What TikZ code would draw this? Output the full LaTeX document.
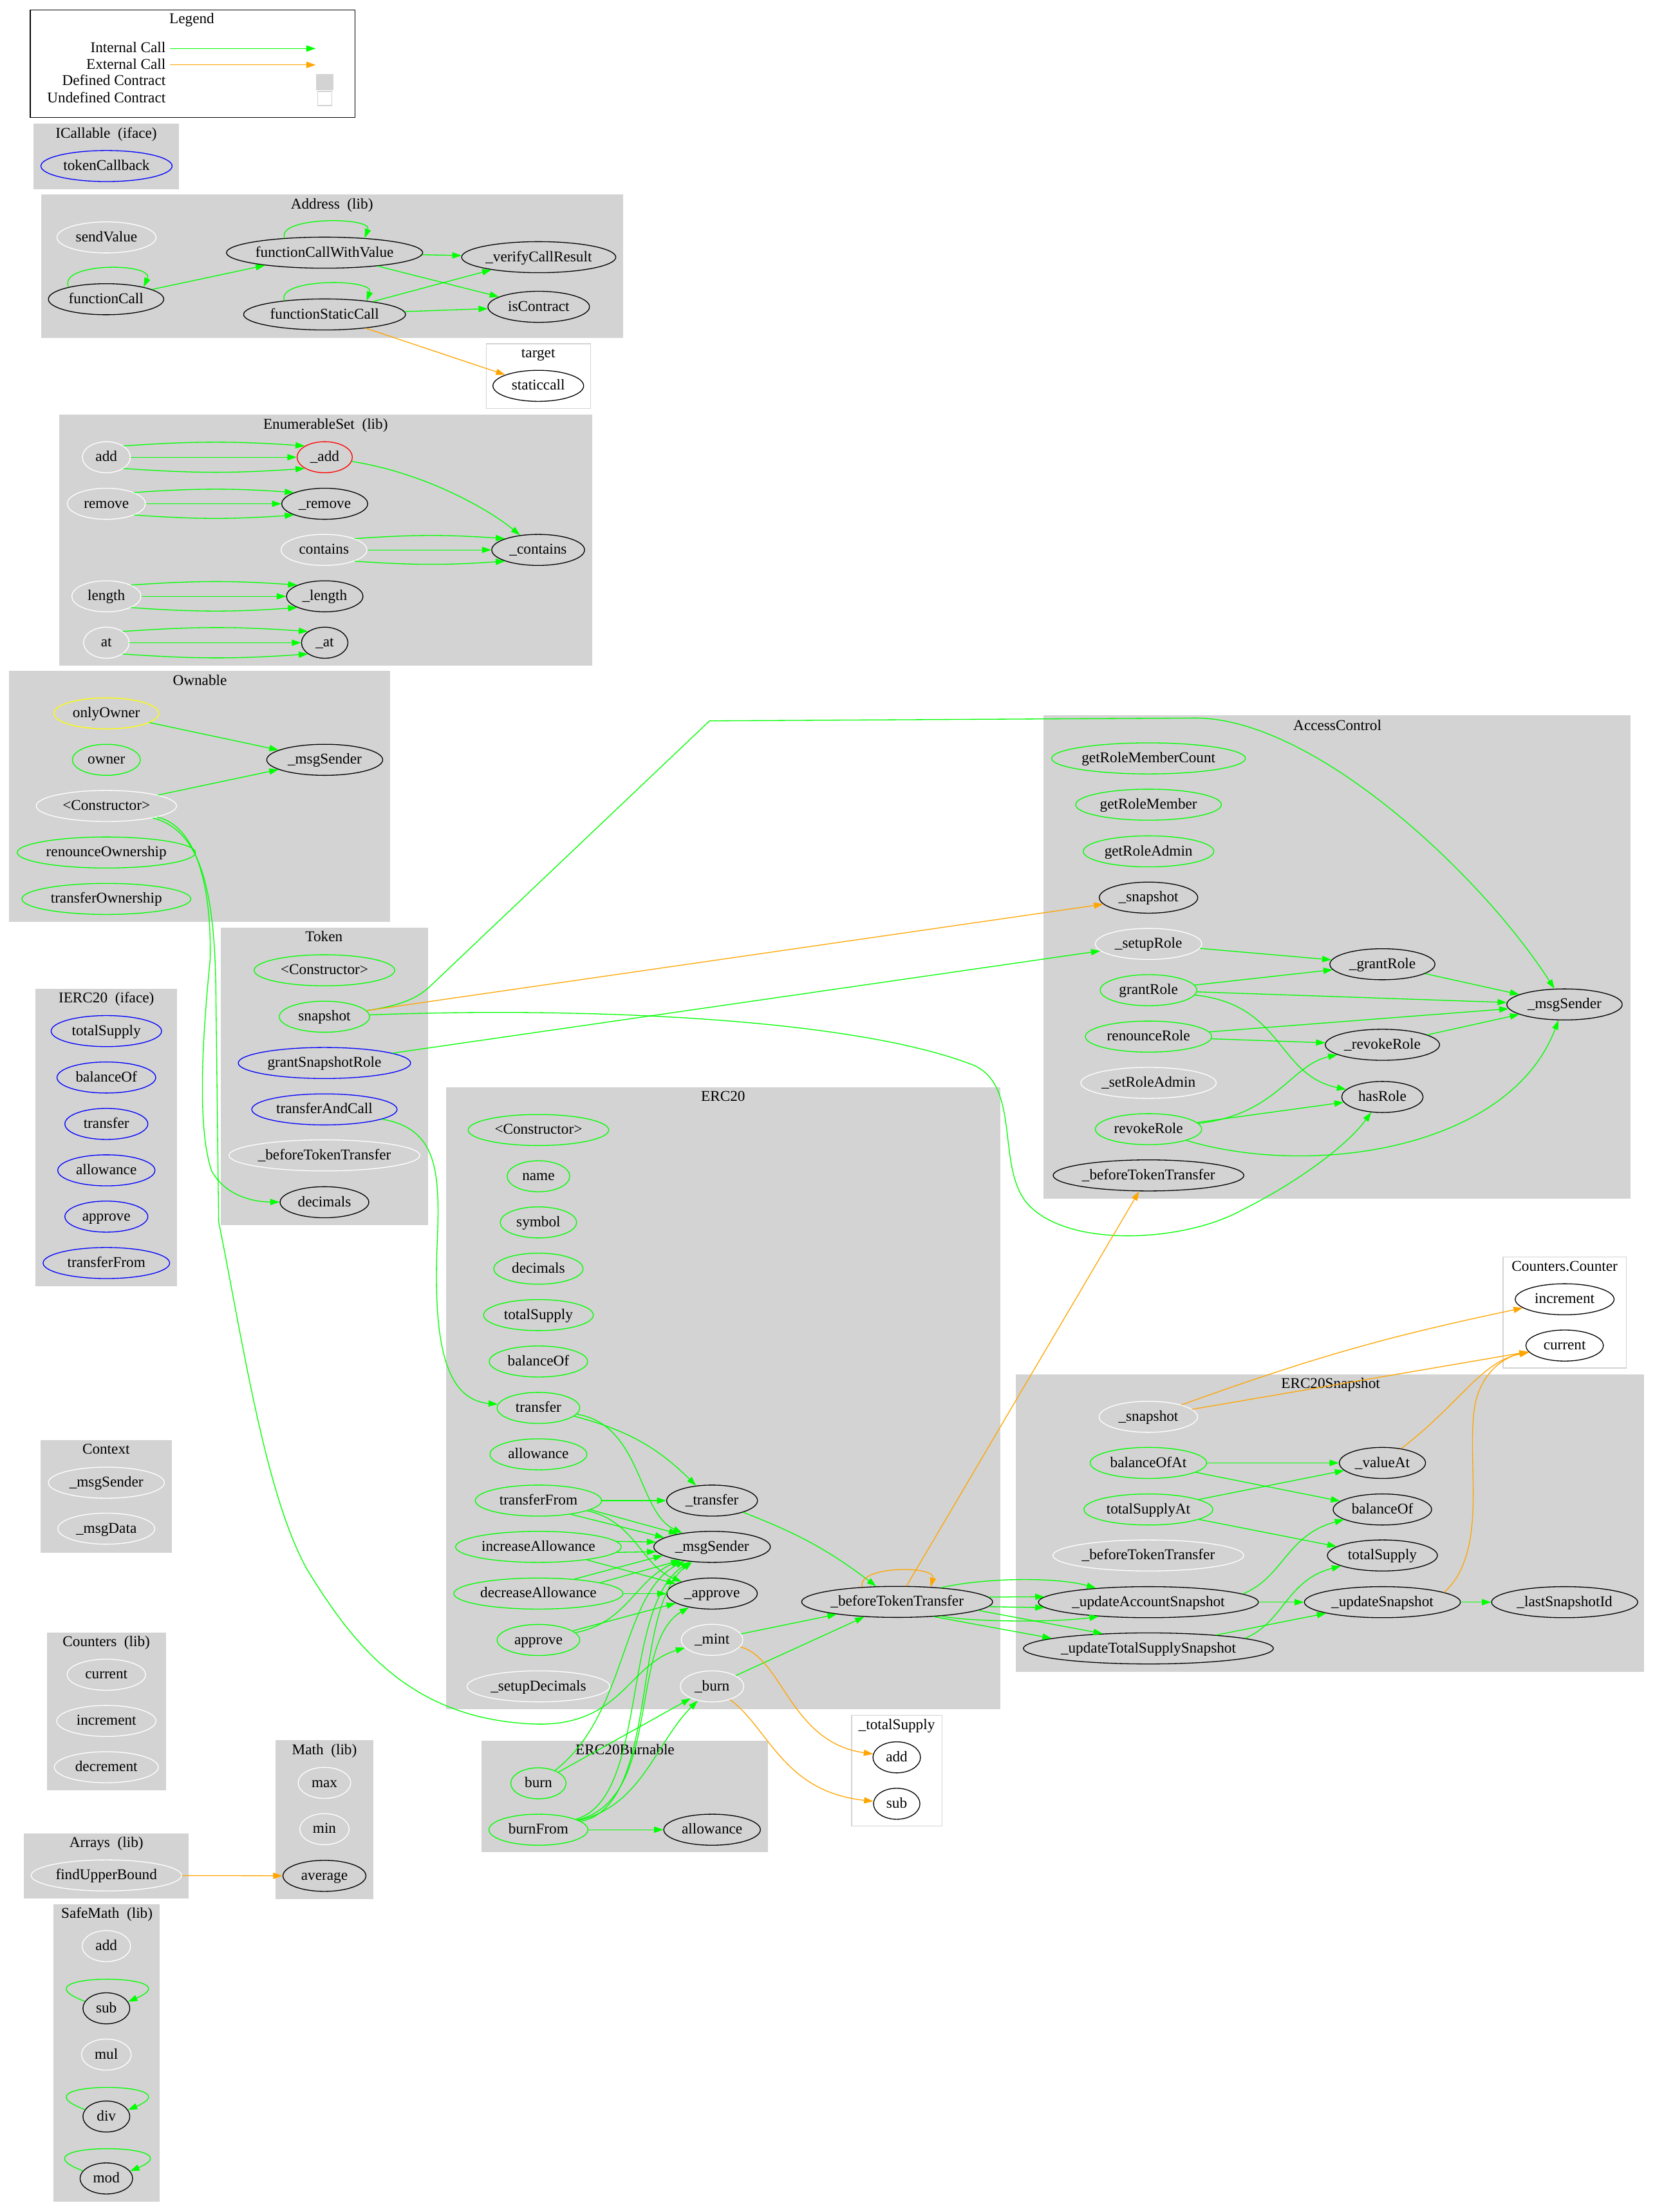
\documentclass[tikz,border=0pt]{standalone}
\usepackage{fontspec}
\setmainfont{Liberation Serif}
\usetikzlibrary{shapes.geometric,arrows.meta}
\definecolor{gvgreen}{HTML}{00FF00}
\definecolor{gvorange}{HTML}{FFA500}
\definecolor{gvgray}{HTML}{D3D3D3}
\definecolor{gvblue}{HTML}{0000FF}
\definecolor{gvyellow}{HTML}{FFFF00}
\definecolor{gvred}{HTML}{FF0000}
\tikzset{
 fnode/.style={ellipse, inner sep=0pt, minimum height=22pt, line width=0.6pt, text height=7.6pt, text depth=1.6pt},
 fk/.style={fnode, draw=black},
 fw/.style={fnode, draw=white},
 fg/.style={fnode, draw=gvgreen},
 fb/.style={fnode, draw=gvblue},
 fy/.style={fnode, draw=gvyellow},
 fr/.style={fnode, draw=gvred},
 ic/.style={draw=gvgreen, line width=0.6pt, -{Triangle[length=6.6pt,width=4.4pt]}},
 ec/.style={draw=gvorange, line width=0.6pt, -{Triangle[length=6.6pt,width=4.4pt]}},
 defcl/.style={fill=gvgray, draw=gvgray, line width=0.6pt},
 undcl/.style={fill=white, draw=gvgray, line width=0.6pt},
 ttl/.style={inner sep=0pt, text height=7.6pt, text depth=1.6pt},
}
\begin{document}
\begin{tikzpicture}[x=1pt,y=-1pt,font=\fontsize{10.6pt}{12pt}\selectfont]
\fill[white] (0,0) rectangle (1173,1568);
\useasboundingbox (0,0) rectangle (1173,1568);

% ---------- clusters ----------
\draw[line width=0.6pt] (21.5,7.1) rectangle (251.6,83.4);
\draw[defcl] (24.1,87.7) rectangle (126.5,133.9);
\draw[defcl] (29.6,138.3) rectangle (441.3,239.3);
\draw[undcl] (344.9,243.7) rectangle (418.6,289.4);
\draw[defcl] (42.5,294.1) rectangle (419.4,471.6);
\draw[defcl] (6.9,475.9) rectangle (276.3,653.2);
\draw[defcl] (25.6,701.2) rectangle (125.2,911.6);
\draw[defcl] (156.9,657.8) rectangle (303.1,868.2);
\draw[defcl] (29.2,1021) rectangle (121.6,1100.2);
\draw[defcl] (33.6,1157.6) rectangle (117.3,1269);
\draw[defcl] (195.7,1234) rectangle (264.6,1345.8);
\draw[defcl] (17.3,1299.8) rectangle (133.5,1345.5);
\draw[defcl] (38.2,1350.2) rectangle (113.1,1560.3);
\draw[defcl] (316.7,771) rectangle (709,1211.1);
\draw[defcl] (341.7,1234.2) rectangle (544.3,1312.7);
\draw[undcl] (603.7,1215.9) rectangle (667.8,1294.3);
\draw[defcl] (740.1,507.5) rectangle (1155.6,849.3);
\draw[undcl] (1065.6,891.1) rectangle (1152.9,969.7);
\draw[defcl] (720.4,974.4) rectangle (1165,1184.6);

% ---------- legend ----------
\node[ttl] (lg-t) at (136,13.6) {Legend};
\node[ttl, anchor=east] (lg-it) at (117.6,34.4) {Internal Call};
\node[ttl, anchor=east] (lg-et) at (117.6,46) {External Call};
\node[ttl, anchor=east] (lg-dt) at (117.6,57.6) {Defined Contract};
\node[ttl, anchor=east] (lg-ut) at (117.6,69.6) {Undefined Contract};
\coordinate (lg-i1) at (120.5,34.4);
\coordinate (lg-i2) at (223.8,34.4);
\coordinate (lg-e1) at (120.5,46);
\coordinate (lg-e2) at (223.8,46);
\node[fill=gvgray, draw=gvgray, minimum width=11.7pt, minimum height=11.2pt, inner sep=0pt] (lg-def) at (230.25,58.1) {};
\node[fill=white, draw=gvgray, line width=0.6pt, minimum width=10.1pt, minimum height=10.1pt, inner sep=0pt] (lg-und) at (230.25,69.85) {};
\draw[ic] (lg-i1) -- (lg-i2);
\draw[ec] (lg-e1) -- (lg-e2);

% ---------- titles ----------
\node[ttl] (t-ic) at (75.3,94.8) {ICallable\enspace(iface)};
\node[ttl] (t-ad) at (235.3,144.9) {Address\enspace(lib)};
\node[ttl] (t-tg) at (381.6,250.6) {target};
\node[ttl] (t-es) at (230.8,301) {EnumerableSet\enspace(lib)};
\node[ttl] (t-ow) at (141.7,482.6) {Ownable};
\node[ttl] (t-ie) at (75.4,707.9) {IERC20\enspace(iface)};
\node[ttl] (t-tk) at (229.7,664.5) {Token};
\node[ttl] (t-cx) at (75.2,1027.7) {Context};
\node[ttl] (t-co) at (75.4,1164.3) {Counters\enspace(lib)};
\node[ttl] (t-ma) at (230,1240.7) {Math\enspace(lib)};
\node[ttl] (t-ar) at (75.4,1306.6) {Arrays\enspace(lib)};
\node[ttl] (t-sm) at (75.8,1356.6) {SafeMath\enspace(lib)};
\node[ttl] (t-e) at (512.6,777.7) {ERC20};
\node[ttl] (t-eb) at (443.1,1240.9) {ERC20Burnable};
\node[ttl] (t-ts) at (635.7,1222.9) {\_totalSupply};
\node[ttl] (t-ac) at (948.1,514.5) {AccessControl};
\node[ttl] (t-cc) at (1109.2,898) {Counters.Counter};
\node[ttl] (t-sn) at (943.3,981.1) {ERC20Snapshot};

% ---------- nodes ----------
\node[fb, minimum width=93pt] (ic-tcb) at (75.5,117.7) {tokenCallback};

\node[fw, minimum width=70.3pt] (ad-sv) at (75.5,168.3) {sendValue};
\node[fk, minimum width=81.8pt] (ad-fc) at (75.2,212.1) {functionCall};
\node[fk, minimum width=139.1pt] (ad-fcwv) at (230.1,179.1) {functionCallWithValue};
\node[fk, minimum width=114.8pt] (ad-fsc) at (230.1,222.9) {functionStaticCall};
\node[fk, minimum width=109.3pt] (ad-vcr) at (381.9,182.3) {\_verifyCallResult};
\node[fk, minimum width=72pt] (ad-isc) at (381.9,217.5) {isContract};
\node[fk, minimum width=64.3pt] (tg-sc) at (381.6,273.5) {staticcall};

\node[fw, minimum width=34pt] (es-add) at (75.4,324.1) {add};
\node[fr, minimum width=39.2pt] (es-Iadd) at (230.2,324.1) {\_add};
\node[fw, minimum width=55.4pt] (es-rem) at (75.4,357.1) {remove};
\node[fk, minimum width=60.9pt] (es-Irem) at (230.2,357.1) {\_remove};
\node[fw, minimum width=60.9pt] (es-con) at (229.7,389.8) {contains};
\node[fk, minimum width=65.8pt] (es-Icon) at (381.5,389.8) {\_contains};
\node[fw, minimum width=49pt] (es-len) at (75.4,422.7) {length};
\node[fk, minimum width=54.3pt] (es-Ilen) at (230.2,422.7) {\_length};
\node[fw, minimum width=32.3pt] (es-at) at (75.4,455.6) {at};
\node[fk, minimum width=32.9pt] (es-Iat) at (230.2,455.6) {\_at};

\node[fy, minimum width=74.3pt] (ow-only) at (75.4,505.7) {onlyOwner};
\node[fg, minimum width=48.2pt] (ow-owner) at (75.4,538.6) {owner};
\node[fk, minimum width=82.2pt] (ow-msg) at (230.2,538.6) {\_msgSender};
\node[fw, minimum width=99.5pt] (ow-ctor) at (75.4,571.3) {<Constructor>};
\node[fg, minimum width=126.4pt] (ow-ren) at (75.4,604.3) {renounceOwnership};
\node[fg, minimum width=119.8pt] (ow-tr) at (75.4,637.2) {transferOwnership};

\node[fb, minimum width=78.3pt] (ie-ts) at (75.4,730.9) {totalSupply};
\node[fb, minimum width=70pt] (ie-bo) at (75.4,763.8) {balanceOf};
\node[fb, minimum width=58.8pt] (ie-tr) at (75.4,796.7) {transfer};
\node[fb, minimum width=68.9pt] (ie-al) at (75.4,829.6) {allowance};
\node[fb, minimum width=58.8pt] (ie-ap) at (75.4,862.4) {approve};
\node[fb, minimum width=89.7pt] (ie-tf) at (75.4,895.3) {transferFrom};

\node[fg, minimum width=99.7pt] (tk-ctor) at (230,687.8) {<Constructor>};
\node[fg, minimum width=64pt] (tk-snap) at (230,720.7) {snapshot};
\node[fb, minimum width=122.2pt] (tk-gsr) at (230,753.5) {grantSnapshotRole};
\node[fb, minimum width=103pt] (tk-tac) at (230,786.4) {transferAndCall};
\node[fw, minimum width=135.3pt] (tk-btt) at (230,819) {\_beforeTokenTransfer};
\node[fk, minimum width=62.9pt] (tk-dec) at (230,852.2) {decimals};

\node[fw, minimum width=82.3pt] (cx-msg) at (75.4,1051) {\_msgSender};
\node[fw, minimum width=68.7pt] (cx-data) at (75.4,1083.6) {\_msgData};

\node[fw, minimum width=55.7pt] (co-cur) at (75.4,1187.1) {current};
\node[fw, minimum width=70.4pt] (co-inc) at (75.4,1219.9) {increment};
\node[fw, minimum width=73.8pt] (co-dec) at (75.4,1252.7) {decrement};

\node[fw, minimum width=37.3pt] (ma-max) at (230,1263.8) {max};
\node[fw, minimum width=35pt] (ma-min) at (230,1296.6) {min};
\node[fk, minimum width=58.8pt] (ma-avg) at (230,1329.7) {average};

\node[fw, minimum width=106.6pt] (ar-fub) at (75.4,1329.4) {findUpperBound};

\node[fw, minimum width=34.3pt] (sm-add) at (75.4,1379.5) {add};
\node[fk, minimum width=33.2pt] (sm-sub) at (75.4,1423.6) {sub};
\node[fw, minimum width=35.2pt] (sm-mul) at (75.4,1456.4) {mul};
\node[fk, minimum width=33.2pt] (sm-div) at (75.4,1500.3) {div};
\node[fk, minimum width=37.3pt] (sm-mod) at (75.4,1544.2) {mod};

\node[fg, minimum width=99.7pt] (e-ctor) at (381.7,801) {<Constructor>};
\node[fg, minimum width=44.4pt] (e-name) at (381.7,833.8) {name};
\node[fg, minimum width=54.2pt] (e-sym) at (381.7,866.5) {symbol};
\node[fg, minimum width=63.3pt] (e-dec) at (381.7,899.3) {decimals};
\node[fg, minimum width=77.8pt] (e-ts) at (381.7,932.2) {totalSupply};
\node[fg, minimum width=69.8pt] (e-bo) at (381.7,965.1) {balanceOf};
\node[fg, minimum width=58.6pt] (e-tr) at (381.7,998) {transfer};
\node[fg, minimum width=68.7pt] (e-al) at (381.7,1030.9) {allowance};
\node[fg, minimum width=89.5pt] (e-tf) at (381.7,1063.7) {transferFrom};
\node[fk, minimum width=64.4pt] (e-Itr) at (504.8,1063.7) {\_transfer};
\node[fg, minimum width=117.5pt] (e-ia) at (381.7,1096.5) {increaseAllowance};
\node[fk, minimum width=82.6pt] (e-msg) at (504.8,1096.5) {\_msgSender};
\node[fg, minimum width=120pt] (e-da) at (381.7,1129.6) {decreaseAllowance};
\node[fk, minimum width=64.1pt] (e-Iap) at (504.8,1129.6) {\_approve};
\node[fg, minimum width=58.6pt] (e-ap) at (381.7,1162.5) {approve};
\node[fw, minimum width=43.7pt] (e-mint) at (504.8,1162.4) {\_mint};
\node[fw, minimum width=101.2pt] (e-sd) at (381.7,1195.4) {\_setupDecimals};
\node[fw, minimum width=45pt] (e-burn) at (504.8,1195.4) {\_burn};
\node[fk, minimum width=135.4pt] (e-btt) at (636,1135.5) {\_beforeTokenTransfer};

\node[fg, minimum width=39.2pt] (eb-burn) at (381.7,1264.1) {burn};
\node[fg, minimum width=70.2pt] (eb-bf) at (381.7,1297) {burnFrom};
\node[fk, minimum width=68.5pt] (eb-al) at (504.8,1297) {allowance};

\node[fk, minimum width=33.7pt] (ts-add) at (635.7,1245.7) {add};
\node[fk, minimum width=32.9pt] (ts-sub) at (635.7,1278.6) {sub};

\node[fg, minimum width=137.4pt] (ac-grmc) at (814.2,537.6) {getRoleMemberCount};
\node[fg, minimum width=103.3pt] (ac-grm) at (814.2,570.4) {getRoleMember};
\node[fg, minimum width=92.6pt] (ac-gra) at (814.2,603.5) {getRoleAdmin};
\node[fk, minimum width=69.8pt] (ac-snap) at (814.2,636.3) {\_snapshot};
\node[fw, minimum width=75.4pt] (ac-setup) at (814.2,669.1) {\_setupRole};
\node[fk, minimum width=74.5pt] (ac-Igrant) at (980,683.5) {\_grantRole};
\node[fg, minimum width=68.5pt] (ac-grant) at (814.2,701.9) {grantRole};
\node[fk, minimum width=81.8pt] (ac-msg) at (1109.1,712) {\_msgSender};
\node[fg, minimum width=89.6pt] (ac-ren) at (814.2,734.8) {renounceRole};
\node[fk, minimum width=81pt] (ac-Irevoke) at (980,740.6) {\_revokeRole};
\node[fw, minimum width=96pt] (ac-setadm) at (814.2,767.6) {\_setRoleAdmin};
\node[fk, minimum width=57.7pt] (ac-has) at (980,777.6) {hasRole};
\node[fg, minimum width=75.4pt] (ac-revoke) at (814.2,800.4) {revokeRole};
\node[fk, minimum width=135.2pt] (ac-btt) at (814.2,833.2) {\_beforeTokenTransfer};

\node[fk, minimum width=70.1pt] (cc-inc) at (1109.2,921) {increment};
\node[fk, minimum width=55pt] (cc-cur) at (1109.2,953.8) {current};

\node[fw, minimum width=69.8pt] (sn-snap) at (814.1,1004.3) {\_snapshot};
\node[fg, minimum width=82.6pt] (sn-boa) at (814.1,1037) {balanceOfAt};
\node[fk, minimum width=61.1pt] (sn-va) at (980,1037) {\_valueAt};
\node[fg, minimum width=91.4pt] (sn-tsa) at (814.1,1070) {totalSupplyAt};
\node[fk, minimum width=69.8pt] (sn-bo) at (980,1070) {balanceOf};
\node[fw, minimum width=135.3pt] (sn-btt) at (814.1,1102.6) {\_beforeTokenTransfer};
\node[fk, minimum width=78pt] (sn-ts) at (980,1102.6) {totalSupply};
\node[fk, minimum width=156pt] (sn-uas) at (814.1,1135.7) {\_updateAccountSnapshot};
\node[fk, minimum width=110.6pt] (sn-us) at (980,1135.7) {\_updateSnapshot};
\node[fk, minimum width=103.6pt] (sn-lsi) at (1109.2,1135.7) {\_lastSnapshotId};
\node[fk, minimum width=177.2pt] (sn-uts) at (814.1,1168.5) {\_updateTotalSupplySnapshot};

% ---------- edges: Address ----------
\draw[ic] (ad-fc.162) .. controls +(-8,-17.6) and +(8,-17.6) .. (ad-fc.18);
\draw[ic] (ad-fcwv.160) .. controls +(-6,-15.3) and +(6,-15.3) .. (ad-fcwv.20);
\draw[ic] (ad-fsc.161) .. controls +(-6,-16) and +(6,-16) .. (ad-fsc.18);
\draw[ic] (ad-fc) -- (ad-fcwv);
\draw[ic] (ad-fcwv) -- (ad-vcr);
\draw[ic] (ad-fcwv) -- (ad-isc);
\draw[ic] (ad-fsc) -- (ad-vcr);
\draw[ic] (ad-fsc) -- (ad-isc);
\draw[ec] (ad-fsc) -- (tg-sc);

% ---------- edges: EnumerableSet ----------
\foreach \a/\b in {es-add/es-Iadd, es-rem/es-Irem, es-con/es-Icon, es-len/es-Ilen, es-at/es-Iat} {
  \draw[ic] (\a.north east) to[bend left=4] (\b.north west);
  \draw[ic] (\a) -- (\b);
  \draw[ic] (\a.south east) to[bend right=4] (\b.south west);
}
\draw[ic] (es-Iadd) .. controls (300,335) and (345,360) .. (es-Icon);

% ---------- edges: Ownable ----------
\draw[ic] (ow-only) -- (ow-msg);
\draw[ic] (ow-ctor) -- (ow-msg);
\draw[ic] (ow-ctor) .. controls (138,585) and (150,625) .. (149,680) .. controls (143,740) and (140,800) .. (150,830) .. controls (160,848) and (180,852) .. (tk-dec);
\draw[ic] (ow-ctor) .. controls (140,588) and (152,625) .. (153,700) -- (155,866) .. controls (172,950) and (188,1060) .. (218,1113) .. controls (250,1165) and (290,1218) .. (377,1222) .. controls (440,1225) and (445,1180) .. (e-mint);

% ---------- edges: Token ----------
\draw[ic] (tk-snap) .. controls (283,713) and (295,708) .. (304,700) -- (503,511) -- (845,509) .. controls (930,507) and (1050,620) .. (ac-msg);
\draw[ec] (tk-snap) -- (ac-snap);
\draw[ic] (tk-gsr) -- (ac-setup);
\draw[ic] (tk-snap) .. controls (400,714) and (600,720) .. (690,755) .. controls (725,770) and (705,830) .. (730,855) .. controls (760,885) and (840,880) .. (880,858) .. controls (920,838) and (955,812) .. (ac-has);
\draw[ic] (tk-tac) .. controls (310,800) and (312,830) .. (310,880) .. controls (307,950) and (315,992) .. (e-tr);

% ---------- edges: ERC20 ----------
\draw[ic] (e-tr) to[bend left=15] (e-Itr);
\draw[ic] (e-tr) .. controls (455,1010) and (452,1072) .. (e-msg);
\draw[ic] (e-tf) -- (e-Itr);
\draw[ic] (e-tf.-10) -- (e-msg.159);
\draw[ic] (e-tf.-23) -- (e-msg.169);
\draw[ic] (e-tf) .. controls (450,1078) and (455,1110) .. (e-Iap);
\draw[ic] (e-ia.4) -- (e-msg.175);
\draw[ic] (e-ia.-4) -- (e-msg.185);
\draw[ic] (e-ia) -- (e-Iap);
\draw[ic] (e-da.22) -- (e-msg.190);
\draw[ic] (e-da.10) -- (e-msg.203);
\draw[ic] (e-da) -- (e-Iap);
\draw[ic] (e-ap) -- (e-Iap);
\draw[ic] (e-ap) .. controls (445,1150) and (450,1120) .. (e-msg);
\draw[ic] (e-Itr) to[bend left=8] (e-btt);
\draw[ic] (e-mint) -- (e-btt);
\draw[ic] (e-burn) -- (e-btt);
\draw[ec] (e-btt.157) .. controls +(-4,-15.3) and +(4,-15.3) .. (e-btt.24.5);
\draw[ec] (e-btt) -- (ac-btt);
\draw[ec] (e-mint) .. controls (555,1175) and (560,1235) .. (ts-add);
\draw[ec] (e-burn) .. controls (545,1225) and (555,1270) .. (ts-sub);
\draw[ic] (e-btt.18) .. controls (700,1118) and (750,1118) .. (sn-uas.165);
\draw[ic] (e-btt.3) -- (sn-uas.177);
\draw[ic] (e-btt.-3) -- (sn-uas.183);
\draw[ic] (e-btt.-18) .. controls (690,1150) and (750,1150) .. (sn-uas.196);
\draw[ic] (e-btt.-6) -- (sn-uts.162);
\draw[ic] (e-btt.-22) -- (sn-uts.174);

% ---------- edges: ERC20Burnable ----------
\draw[ic] (eb-burn) -- (e-burn);
\draw[ic] (eb-burn) .. controls (445,1215) and (440,1130) .. (e-msg);
\draw[ic] (eb-bf) -- (eb-al);
\draw[ic] (eb-bf) .. controls (455,1280) and (465,1235) .. (e-burn);
\draw[ic] (eb-bf) .. controls (460,1275) and (440,1140) .. (e-msg);
\draw[ic] (eb-bf) .. controls (468,1280) and (447,1140) .. (e-msg);
\draw[ic] (eb-bf) .. controls (470,1275) and (445,1165) .. (e-Iap);

% ---------- edges: AccessControl ----------
\draw[ic] (ac-setup) -- (ac-Igrant);
\draw[ic] (ac-grant) -- (ac-Igrant);
\draw[ic] (ac-grant) -- (ac-msg);
\draw[ic] (ac-grant) .. controls (910,712) and (905,762) .. (ac-has);
\draw[ic] (ac-Igrant) -- (ac-msg);
\draw[ic] (ac-ren) -- (ac-msg);
\draw[ic] (ac-ren) -- (ac-Irevoke);
\draw[ic] (ac-Irevoke) -- (ac-msg);
\draw[ic] (ac-revoke) -- (ac-has);
\draw[ic] (ac-revoke) .. controls (905,790) and (915,755) .. (ac-Irevoke);
\draw[ic] (ac-revoke) .. controls (930,835) and (1070,815) .. (ac-msg);

% ---------- edges: ERC20Snapshot ----------
\draw[ec] (sn-snap) to[bend left=4] (cc-inc);
\draw[ec] (sn-snap) -- (cc-cur);
\draw[ec] (sn-va) .. controls (1035,995) and (1050,965) .. (cc-cur);
\draw[ec] (sn-us.9) .. controls (1055,1100) and (1040,1040) .. (1045,1000) .. controls (1048,975) and (1065,962) .. (cc-cur);
\draw[ic] (sn-boa) -- (sn-va);
\draw[ic] (sn-boa) -- (sn-bo);
\draw[ic] (sn-tsa) -- (sn-va);
\draw[ic] (sn-tsa) -- (sn-ts);
\draw[ic] (sn-uas.5) .. controls (910,1118) and (912,1088) .. (sn-bo);
\draw[ic] (sn-uas) -- (sn-us);
\draw[ic] (sn-uts.6) .. controls (910,1150) and (912,1120) .. (sn-ts);
\draw[ic] (sn-uts) -- (sn-us);
\draw[ic] (sn-us) -- (sn-lsi);

% ---------- edges: Arrays / SafeMath ----------
\draw[ec] (ar-fub) -- (ma-avg);
\foreach \n in {sm-sub, sm-div, sm-mod}
  \draw[ic] (\n.162) .. controls +(-54.5,-20.5) and +(48.9,-20.8) .. (\n.17);
\end{tikzpicture}
\end{document}
